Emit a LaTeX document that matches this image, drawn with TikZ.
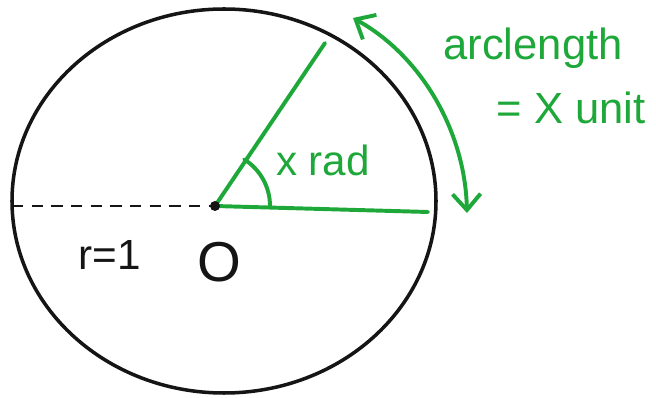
\documentclass[tikz,border=0pt]{standalone}
\usepackage{fontspec}
\setmainfont{Liberation Sans}
\usetikzlibrary{arrows.meta,positioning,calc}
\definecolor{rdGreen}{HTML}{1FA83A}
\definecolor{rdInk}{HTML}{151515}
\tikzset{
  rim/.style={draw=rdInk, line width=2.5pt},
  rayline/.style={draw=rdGreen, line width=2.8pt, line cap=round},
  dashline/.style={draw=rdInk, line width=1.8pt, dash pattern=on 8pt off 6pt},
  arcarrow/.style={draw=rdGreen, line width=2.8pt,
    {Straight Barb[length=4mm, width=7mm]}-{Straight Barb[length=4mm, width=7mm]}},
  greentxt/.style={text=rdGreen, inner sep=0pt},
  inktxt/.style={text=rdInk, inner sep=0pt}
}
\begin{document}
\begin{tikzpicture}[x=0.025cm, y=-0.025cm]
  \useasboundingbox (0,0) rectangle (656,398);
  % unit circle
  \draw[rim] (224,201) ellipse [x radius=212, y radius=192];
  \coordinate (O) at (215,206);
  \coordinate (L) at (12,206);
  \coordinate (A) at (428,212);
  \coordinate (B) at (325,43);
  \coordinate (P) at (353,18);
  \coordinate (Q) at (467,213);
  \draw[dashline] (L) -- (O);
  \draw[rayline] (O) -- (A);
  \draw[rayline] (O) -- (B);
  \draw[rayline] ($(O)+(55,0)$) arc [start angle=0, end angle=-58, radius=55];
  \fill[rdInk] (O) circle [radius=5];
  % arc length arrow
  \draw[arcarrow] (P) .. controls (420,55) and (465,130) .. (Q);
  % labels
  \node[greentxt, font=\fontsize{31}{33}\selectfont] (arc) at (533,48) {arclength};
  \node[greentxt, font=\fontsize{31}{33}\selectfont] (unit) at (571,108) {= X unit};
  \node[greentxt, font=\fontsize{30}{32}\selectfont] (xrad) at (323,160) {x rad};
  \node[inktxt, font=\fontsize{30}{32}\selectfont] (rlab) at (110,255) {r=1};
  \node[inktxt, font=\fontsize{40}{42}\selectfont] (olab) at (219,262) {O};
\end{tikzpicture}
\end{document}
